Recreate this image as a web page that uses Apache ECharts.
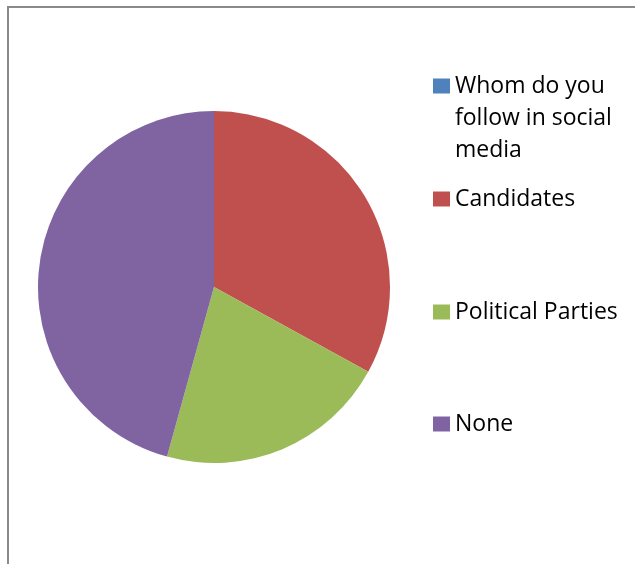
<!DOCTYPE html>
<html>
<head>
<meta charset="utf-8">
<script src="https://cdn.jsdelivr.net/npm/echarts@6/dist/echarts.min.js"></script>
<style>
html,body{margin:0;padding:0;background:#fff;}
#frame{position:absolute;left:7px;top:6px;width:700px;height:700px;border-left:2px solid #8a8a8a;border-top:2px solid #8a8a8a;}
#chart{position:absolute;left:0;top:0;width:635px;height:564px;}
</style>
</head>
<body>
<div id="frame"></div>
<div id="chart"></div>
<script>
const categories = ['Whom do you follow in social media', 'Candidates', 'Political Parties', 'None'];
const values = [0, 33, 21.3, 45.7];
const colors = ['#4F81BD', '#C0504D', '#9BBB59', '#8064A2'];
const legendLabels = ['\n\nWhom do you\nfollow in social\nmedia', 'Candidates', 'Political Parties', 'None'];
const legendTops = [6, 183, 296, 408];

const font = 'Open Sans';
const chart = echarts.init(document.getElementById('chart'), null, {renderer: 'canvas'});

const legends = categories.map((c, i) => ({
  data: [c],
  orient: 'vertical',
  left: 433,
  top: legendTops[i],
  padding: 0,
  itemWidth: 17,
  itemHeight: 15,
  itemGap: 0,
  icon: 'rect',
  itemStyle: {borderWidth: 0},
  selectedMode: false,
  formatter: () => legendLabels[i],
  textStyle: {
    fontFamily: font,
    fontSize: 23,
    color: '#000',
    lineHeight: 32
  }
}));

chart.setOption({
  animation: false,
  color: colors,
  legend: legends,
  series: [{
    type: 'pie',
    center: [214, 287],
    radius: 176,
    startAngle: 90,
    clockwise: true,
    label: {show: false},
    labelLine: {show: false},
    emphasis: {disabled: true},
    itemStyle: {borderWidth: 0},
    data: categories.map((c, i) => ({name: c, value: values[i]}))
  }]
});
</script>
</body>
</html>
